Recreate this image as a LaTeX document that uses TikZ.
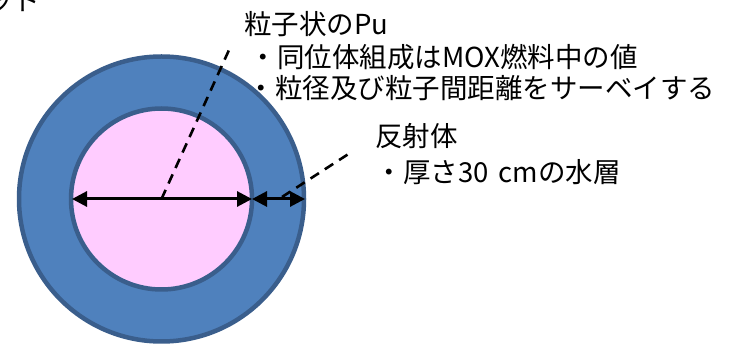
\documentclass[tikz,border=0pt]{standalone}
\usepackage{fontspec}
\setmainfont{Noto Sans CJK JP}
\usetikzlibrary{arrows.meta}
\definecolor{outerblue}{HTML}{4F81BD}
\definecolor{edgeblue}{HTML}{3A5E8C}
\definecolor{innerpink}{HTML}{FFCCFF}
\tikzset{
  txt/.style={anchor=west,inner sep=0pt,font=\fontsize{27.5}{32}\selectfont},
  dimarrow/.style={line width=3pt,{Triangle[length=15pt,width=15pt]}-{Triangle[length=15pt,width=15pt]}},
  leader/.style={line width=2.6pt,dash pattern=on 10pt off 7pt},
  ring/.style={line width=4.5pt,draw=edgeblue}
}
\begin{document}
\begin{tikzpicture}[x=1pt,y=-1pt]
\useasboundingbox (0,0) rectangle (747,344);
\coordinate (c) at (161.5,199);
\filldraw[ring,fill=outerblue] (c) circle[radius=142.5];
\filldraw[ring,fill=innerpink] (c) circle[radius=90.5];
\coordinate (il) at (72,199);
\coordinate (ir) at (252,199);
\coordinate (or) at (305,199);
\draw[dimarrow] (il) -- (ir);
\draw[dimarrow] (ir) -- (or);
\coordinate (p1) at (229,50);
\coordinate (r0) at (282,197);
\coordinate (r1) at (350,153);
\draw[leader] (c) -- (p1);
\draw[leader] (r0) -- (r1);
\node[txt] (top) at (-14,1) {ッド};
\node[txt] (t1) at (244,24) {粒子状のPu};
\node[txt] (t2) at (249.5,57) {・同位体組成はMOX燃料中の値};
\node[txt] (t3) at (247.5,88) {・粒径及び粒子間距離をサーベイする};
\node[txt] (t4) at (375,136) {反射体};
\node[txt] (t5) at (375.5,172) {・厚さ30\hspace{4pt} cmの水層};
\end{tikzpicture}
\end{document}
